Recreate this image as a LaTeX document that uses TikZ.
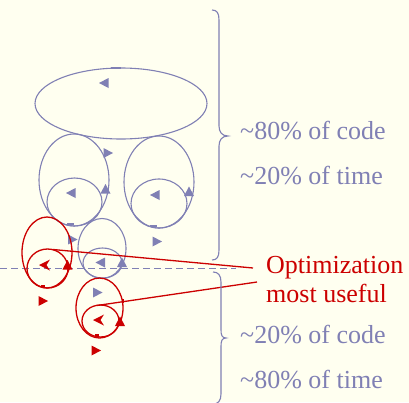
\documentclass[tikz,border=0pt]{standalone}
\usepackage{fontspec}
\setmainfont{Liberation Serif}
\definecolor{bg}{HTML}{FFFFF0}
\definecolor{gb}{HTML}{8080B4}
\definecolor{rd}{HTML}{CC0000}
\tikzset{
  loopg/.style={draw=gb, line width=1.1pt},
  loopr/.style={draw=rd, line width=1.3pt},
  triR/.pic={\fill (-4.5,-5) -- (5,0) -- (-4.5,5) -- cycle;},
  triL/.pic={\fill (4.5,-5) -- (-5,0) -- (4.5,5) -- cycle;},
  triU/.pic={\fill (-5,4.5) -- (0,-5) -- (5,4.5) -- cycle;},
  notchL/.pic={\fill (5,-5.5) -- (-6,0) -- (5,5.5) -- (1.5,0) -- cycle;},
  lbl/.style={anchor=base west, inner sep=0pt, font=\fontsize{26}{30}\selectfont},
}
\begin{document}
\begin{tikzpicture}[x=1pt, y=-1pt]
\useasboundingbox (0,0) rectangle (409,402);
\fill[bg] (0,0) rectangle (409,402);

% grey loops
\draw[loopg] (121,103.5) ellipse [x radius=86pt, y radius=35.5pt];
\draw[loopg] (74,180) ellipse [x radius=35pt, y radius=46pt];
\draw[loopg] (74.5,202) ellipse [x radius=27.5pt, y radius=24pt];
\draw[loopg] (159,182) ellipse [x radius=35pt, y radius=46pt];
\draw[loopg] (159,203.5) ellipse [x radius=28pt, y radius=24.5pt];
\draw[loopg] (102,248.5) ellipse [x radius=24pt, y radius=30pt];
\draw[loopg] (102.5,263) ellipse [x radius=19.5pt, y radius=15pt];

% grey ticks
\draw[gb, line width=1.6pt] (111,68) -- (121,68);
\draw[gb, line width=1.3pt] (67,224) -- (74,224);
\draw[gb, line width=1.3pt] (150,226) -- (157,226);

% grey arrowheads
\begin{scope}[fill=gb]
\pic at (104,83) {triL};
\pic at (108,153) {triR};
\pic at (71,193) {triL};
\pic at (105.5,189) {triU};
\pic at (72.5,239.5) {triR};
\pic at (155,195) {triL};
\pic at (189,191.5) {triU};
\pic at (157,241.5) {triR};
\pic at (100.5,262.5) {triL};
\pic at (122,262.5) {triU};
\pic at (97.5,292.5) {triR};
\end{scope}

% dashed separator
\draw[gb, line width=1.1pt, dash pattern=on 7pt off 4pt] (0,268.5) -- (236,268.5);

% red loops
\draw[loopr] (47,252.5) ellipse [x radius=25pt, y radius=35.5pt];
\draw[loopr] (47.5,268.5) ellipse [x radius=20.5pt, y radius=19.5pt];
\draw[loopr] (99.5,308) ellipse [x radius=23.5pt, y radius=30pt];
\draw[loopr] (100.5,321) ellipse [x radius=18.5pt, y radius=16pt];
\draw[rd, line width=1.3pt] (41,286) -- (45,286);
\draw[rd, line width=1.3pt] (123,299) -- (123,303);
\draw[rd, line width=1.3pt] (95,335) -- (99,335);

\begin{scope}[fill=rd]
\pic at (45,265) {notchL};
\pic at (67.5,265) {triU};
\pic at (43,301) {triR};
\pic at (99,320) {notchL};
\pic at (120,321.5) {triU};
\pic at (96,350.5) {triR};
\end{scope}

% labels
\node[lbl, text=gb] (c1) at (240,139) {\textasciitilde80\% of code};
\node[lbl, text=gb] (t1) at (240,184) {\textasciitilde20\% of time};
\node[lbl, text=rd] (opt) at (266,273) {Optimization};
\node[lbl, text=rd] (mu) at (266,302) {most useful};
\node[lbl, text=gb] (c2) at (240,343) {\textasciitilde20\% of code};
\node[lbl, text=gb] (t2) at (240,388) {\textasciitilde80\% of time};

% red connector lines
\coordinate (d1) at (53,249.5);
\coordinate (e1) at (97,305.5);
\draw[rd, line width=1.3pt] (d1) -- (253,268);
\draw[rd, line width=1.3pt] (e1) -- (257,282);

% braces
\draw[gb, line width=1.1pt] (212,10) .. controls (217,10) and (219,13) .. (219,20)
  -- (219,126) .. controls (219,132) and (222,136) .. (228,136)
  .. controls (222,136) and (219,140) .. (219,146)
  -- (219,250) .. controls (219,257) and (217,260) .. (212,260);
\draw[gb, line width=1.1pt] (213,272) .. controls (218,272) and (221,275) .. (221,282)
  -- (221,330) .. controls (221,335) and (222,338) .. (226,338)
  .. controls (222,338) and (221,341) .. (221,346)
  -- (221,394) .. controls (221,401) and (218,404) .. (213,404);
\end{tikzpicture}
\end{document}
